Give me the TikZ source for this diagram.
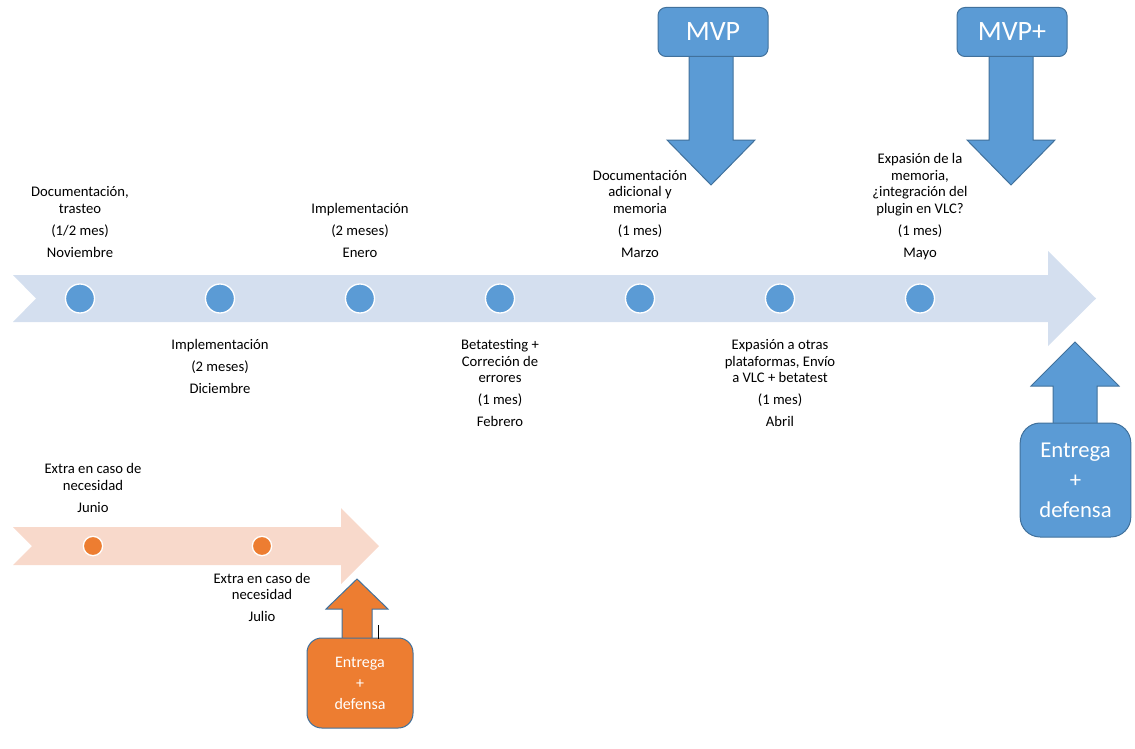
\documentclass[tikz,border=0pt]{standalone}
\usepackage{fontspec}
\setmainfont{Carlito}
\definecolor{cBlue}{HTML}{5B9BD5}
\definecolor{cEdge}{HTML}{41719C}
\definecolor{cLight}{HTML}{D4DFEF}
\definecolor{cOrange}{HTML}{ED7D31}
\definecolor{cLightO}{HTML}{F8D9CB}
\begin{document}
\begin{tikzpicture}[x=0.75pt,y=-0.75pt,
  lbl/.style={font=\fontsize{11}{12.4}\selectfont, inner sep=0pt, anchor=base, text=black},
  bdot/.style={circle, minimum size=21.75pt, inner sep=0pt, fill=cBlue, draw=white, line width=1pt},
  odot/.style={circle, minimum size=14.5pt, inner sep=0pt, fill=cOrange, draw=white, line width=1pt},
  bshape/.style={fill=cBlue, draw=cEdge, line width=0.75pt},
  oshape/.style={fill=cOrange, draw=cEdge, line width=0.75pt},
  mvpbox/.style={bshape, rounded corners=6pt, minimum width=82.5pt, minimum height=36.75pt, inner sep=0pt,
    text=white, font=\fontsize{21}{24}\selectfont},
  bigbox/.style={bshape, rounded corners=15pt, minimum width=83pt, minimum height=85.5pt, inner sep=0pt,
    text=white, align=center, font=\fontsize{17}{22.5}\selectfont},
  obox/.style={oshape, rounded corners=11pt, minimum width=79.5pt, minimum height=67.5pt, inner sep=0pt,
    text=white, align=center, font=\fontsize{12}{15.75}\selectfont}
]
\useasboundingbox (0,0) rectangle (1135,749);

% main timeline
\fill[cLight] (13,275) -- (1048,275) -- (1048,251) -- (1096,298.5) -- (1048,346) -- (1048,322) -- (13,322) -- (36,298.5) -- cycle;
\foreach \i/\x in {1/80,2/220,3/360,4/500,5/640,6/780,7/920}
  \node[bdot] (d\i) at (\x,298.5) {};

% labels above
\node[lbl] (l1) at (80,257) {\begin{tabular}[b]{@{}c@{}}Documentación,\\ trasteo\\[4pt] (1/2 mes)\\[4pt] Noviembre\end{tabular}};
\node[lbl] (l3) at (360,257) {\begin{tabular}[b]{@{}c@{}}Implementación\\[4pt] (2 meses)\\[4pt] Enero\end{tabular}};
\node[lbl] (l5) at (640,257) {\begin{tabular}[b]{@{}c@{}}Documentación\\ adicional y\\ memoria\\[4pt] (1 mes)\\[4pt] Marzo\end{tabular}};
\node[lbl] (l7) at (920,257) {\begin{tabular}[b]{@{}c@{}}Expasión de la\\ memoria,\\ ¿integración del\\ plugin en VLC?\\[4pt] (1 mes)\\[4pt] Mayo\end{tabular}};
% labels below
\node[lbl] (l2) at (220,349.5) {\begin{tabular}[t]{@{}c@{}}Implementación\\[4pt] (2 meses)\\[4pt] Diciembre\end{tabular}};
\node[lbl] (l4) at (500,349.5) {\begin{tabular}[t]{@{}c@{}}Betatesting +\\ Correción de\\ errores\\[4pt] (1 mes)\\[4pt] Febrero\end{tabular}};
\node[lbl] (l6) at (780,349.5) {\begin{tabular}[t]{@{}c@{}}Expasión a otras\\ plataformas, Envío\\ a VLC + betatest\\[4pt] (1 mes)\\[4pt] Abril\end{tabular}};

% MVP arrows
\filldraw[bshape] (689,56) -- (689,140) -- (667,140) -- (711,185) -- (755,140) -- (733,140) -- (733,56);
\node[mvpbox] (mvp) at (713,32) {MVP};
\filldraw[bshape] (989,56) -- (989,140) -- (967,140) -- (1011,185) -- (1055,140) -- (1033,140) -- (1033,56);
\node[mvpbox] (mvpp) at (1012,32) {MVP+};

% final delivery (blue)
\filldraw[bshape] (1053,424) -- (1053,386) -- (1031,386) -- (1075,342) -- (1119,386) -- (1097,386) -- (1097,424);
\node[bigbox] (ent) at (1075.5,480) {Entrega\\+\\defensa};

% orange timeline
\fill[cLightO] (13,527) -- (341,527) -- (341,508) -- (379,546) -- (341,584) -- (341,565) -- (13,565) -- (32,546) -- cycle;
\node[odot] (o1) at (93,546) {};
\node[odot] (o2) at (262,546) {};
\node[lbl] (lj) at (93,512) {\begin{tabular}[b]{@{}c@{}}Extra en caso de\\ necesidad\\[4pt] Junio\end{tabular}};
\node[lbl] (lk) at (262,583) {\begin{tabular}[t]{@{}c@{}}Extra en caso de\\ necesidad\\[4pt] Julio\end{tabular}};

% orange delivery
\filldraw[oshape] (342,639) -- (342,609) -- (326,609) -- (357,579) -- (388,609) -- (372,609) -- (372,639);
\node[obox] (oent) at (360,683) {Entrega\\+\\defensa};
\coordinate (tk1) at (378,625);
\coordinate (tk2) at (378,639);
\draw[black, line width=0.6pt] (tk1) -- (tk2);
\end{tikzpicture}
\end{document}
